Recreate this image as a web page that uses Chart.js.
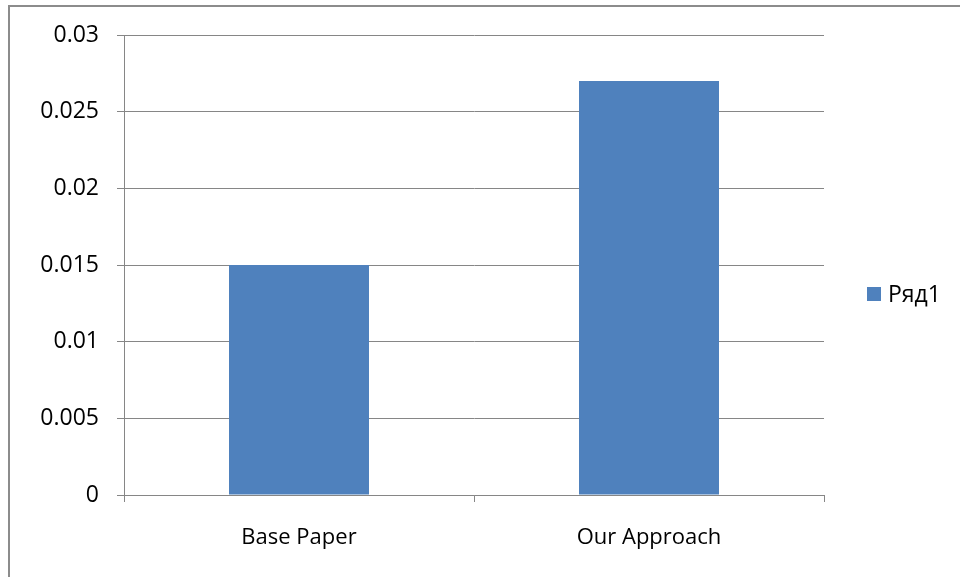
<!DOCTYPE html>
<html>
<head>
<meta charset="utf-8">
<script src="https://cdn.jsdelivr.net/npm/chart.js@4"></script>
<style>
  html, body { margin: 0; padding: 0; background: #fff; }
  #wrap { position: relative; width: 960px; height: 577px; }
</style>
</head>
<body>
<div id="wrap"><canvas id="Bar_Chart" width="960" height="577"></canvas></div>
<script>
// data
const categories = ["Base Paper", "Our Approach"];
const values = [0.015, 0.027];
const seriesName = "Ряд1";
const yTicks = [0, 0.005, 0.01, 0.015, 0.02, 0.025, 0.03];

const gridColor = '#868686';
const barColor = '#4F81BD';
const fontFam = "'Open Sans', 'Liberation Sans', sans-serif";

// frame + legend drawn like the excel export
const excelLook = {
    id: 'excelLook',
    beforeDraw(chart) {
        const ctx = chart.ctx;
        ctx.save();
        ctx.fillStyle = '#fff';
        ctx.fillRect(0, 0, chart.width, chart.height);
        ctx.strokeStyle = '#8c8c8c';
        ctx.lineWidth = 2;
        ctx.beginPath();
        ctx.moveTo(9, chart.height);
        ctx.lineTo(9, 6);
        ctx.lineTo(chart.width, 6);
        ctx.stroke();
        ctx.restore();
    },
    afterDraw(chart) {
        const ctx = chart.ctx;
        const ds = chart.data.datasets[0];
        ctx.save();
        ctx.fillStyle = ds.backgroundColor;
        ctx.fillRect(867, 287, 14, 14);
        ctx.fillStyle = '#000';
        ctx.font = "23px " + fontFam;
        ctx.textBaseline = 'middle';
        ctx.fillText(ds.label, 888, 295);
        ctx.restore();
    }
};

let bar_c = document.getElementById('Bar_Chart');
let bar_chart = new Chart(bar_c, {
    type: 'bar',
    data: {
        labels: categories,
        datasets: [{
            label: seriesName,
            data: values,
            backgroundColor: barColor,
            borderWidth: 0,
            categoryPercentage: 0.4,
            barPercentage: 1.0
        }]
    },
    options: {
        responsive: false,
        animation: false,
        layout: { padding: { top: 35, right: 136, left: 0, bottom: 0 } },
        plugins: {
            legend: { display: false },
            tooltip: { enabled: false }
        },
        scales: {
            x: {
                grid: {
                    offset: true,
                    drawOnChartArea: false,
                    drawTicks: true,
                    tickLength: 7,
                    color: gridColor
                },
                border: { display: true, color: gridColor, width: 1 },
                ticks: {
                    color: '#000',
                    padding: 23,
                    font: { family: fontFam, size: 22 }
                },
                afterFit(scale) { scale.height = 82; }
            },
            y: {
                min: 0,
                max: 0.03,
                afterBuildTicks(scale) {
                    scale.ticks = yTicks.map(v => ({ value: v }));
                },
                grid: {
                    color: gridColor,
                    tickLength: 7
                },
                border: { display: true, color: gridColor, width: 1 },
                ticks: {
                    color: '#000',
                    padding: 18,
                    font: { family: fontFam, size: 23 },
                    callback: v => String(v)
                },
                afterFit(scale) { scale.width = 124; }
            }
        }
    },
    plugins: [excelLook]
});
</script>
</body>
</html>
